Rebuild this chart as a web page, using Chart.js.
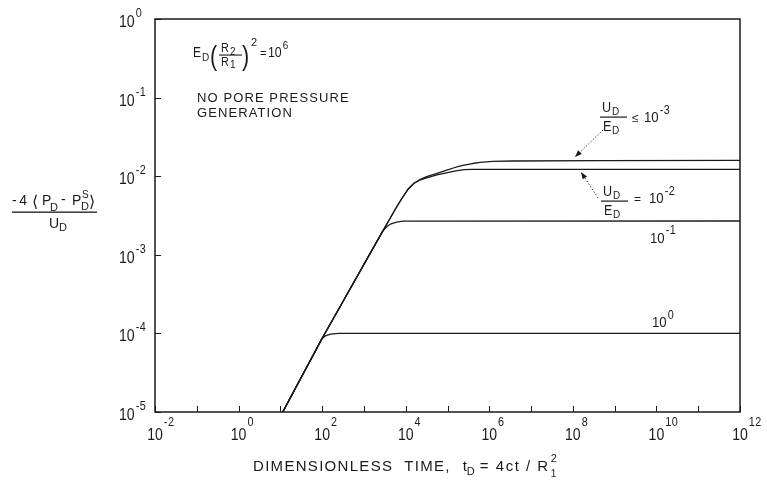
<!DOCTYPE html>
<html>
<head>
<meta charset="utf-8">
<script src="https://cdn.jsdelivr.net/npm/chart.js@4.4.1/dist/chart.umd.min.js"></script>
<style>
  html, body { margin: 0; padding: 0; background: #fff; }
  canvas { display: block; }
</style>
</head>
<body>
<canvas id="chart" width="767" height="484"></canvas>
<script>
// Dimensionless time t_D and the normalised pressure response -4<P_D - P_D^s>/U_D
// for each value of U_D/E_D (E_D (R2/R1)^2 = 10^6, no pore pressure generation).
// All curves share the early-time line, then level off.
const tRatio1e3 = [11.4, 98, 2820, 3980, 5620, 7940, 11200, 15800, 22400, 31600, 56200, 1e5, 158000, 234000, 398000, 603000, 1.2e6, 3.7e6, 4.5e8, 1e12];
const pRatio1e3 = [1e-5, 8.5e-5, 2.0e-3, 2.75e-3, 3.8e-3, 5.13e-3, 6.76e-3, 8.13e-3, 9.1e-3, 9.85e-3, 1.09e-2, 1.20e-2, 1.30e-2, 1.37e-2, 1.45e-2, 1.50e-2, 1.54e-2, 1.56e-2, 1.58e-2, 1.59e-2];

const tRatio1e2 = [11.4, 98, 2820, 3980, 5620, 7940, 11200, 15800, 22400, 31600, 56200, 1e5, 158000, 251000, 398000, 1e12];
const pRatio1e2 = [1e-5, 8.5e-5, 2.0e-3, 2.75e-3, 3.8e-3, 5.13e-3, 6.76e-3, 8.13e-3, 9.0e-3, 9.5e-3, 1.04e-2, 1.11e-2, 1.17e-2, 1.21e-2, 1.22e-2, 1.22e-2];

const tRatio1e1 = [11.4, 98, 2820, 3550, 4470, 6030, 8710, 1e12];
const pRatio1e1 = [1e-5, 8.5e-5, 2.0e-3, 2.29e-3, 2.48e-3, 2.60e-3, 2.68e-3, 2.69e-3];

const tRatio1e0 = [11.4, 98, 120, 158, 251, 1e12];
const pRatio1e0 = [1e-5, 8.5e-5, 9.33e-5, 9.8e-5, 1e-4, 1e-4];

// Axis decades
const xDecades = [-2, -1, 0, 1, 2, 3, 4, 5, 6, 7, 8, 9, 10, 11, 12];
const xLabelDecades = [-2, 0, 2, 4, 6, 8, 10, 12];
const yDecades = [0, -1, -2, -3, -4, -5];

const INK = '#1a1a1a';
const FONT = '"Liberation Sans", "DejaVu Sans", sans-serif';

function pts(ts, ps) { return ts.map((t, i) => ({ x: t, y: ps[i] })); }

// text with optional letter spacing and horizontal squeeze; returns drawn width
function put(ctx, s, x, y, size, ls, hs) {
  hs = hs || 1;
  ctx.font = size + 'px ' + FONT;
  ctx.letterSpacing = (ls || 0) + 'px';
  ctx.textAlign = 'left';
  ctx.textBaseline = 'alphabetic';
  const w = ctx.measureText(s).width * hs;
  ctx.save();
  ctx.translate(x, y);
  ctx.scale(hs, 1);
  ctx.fillText(s, 0, 0);
  ctx.restore();
  ctx.letterSpacing = '0px';
  return w;
}
function width(ctx, s, size, ls, hs) {
  ctx.font = size + 'px ' + FONT;
  ctx.letterSpacing = (ls || 0) + 'px';
  const w = ctx.measureText(s).width * (hs || 1);
  ctx.letterSpacing = '0px';
  return w;
}
// "10" with a raised exponent, left edge at x
function pow10(ctx, exp, x, y, size, supSize, rise) {
  const w = put(ctx, '10', x, y, size, 0, 0.88);
  const w2 = put(ctx, String(exp), x + w + 1, y - rise, supSize, 0.5, 0.9);
  return w + 1 + w2;
}
function fracUE(ctx, x, top) {
  // U_D over E_D
  put(ctx, 'U', x + 2, top + 12, 14, 0, 0.9);
  put(ctx, 'D', x + 12, top + 15, 10);
  ctx.fillRect(x, top + 16.5, 27, 1.2);
  put(ctx, 'E', x + 3, top + 31, 14, 0, 0.9);
  put(ctx, 'D', x + 12, top + 34, 10);
}
function arrow(ctx, x0, y0, x1, y1) {
  ctx.save();
  ctx.setLineDash([1.2, 2]);
  ctx.lineWidth = 1;
  ctx.beginPath(); ctx.moveTo(x0, y0); ctx.lineTo(x1, y1); ctx.stroke();
  ctx.setLineDash([]);
  const a = Math.atan2(y1 - y0, x1 - x0), L = 7, H = 2.6;
  ctx.beginPath();
  ctx.moveTo(x1, y1);
  ctx.lineTo(x1 - L * Math.cos(a) + H * Math.sin(a), y1 - L * Math.sin(a) - H * Math.cos(a));
  ctx.lineTo(x1 - L * Math.cos(a) - H * Math.sin(a), y1 - L * Math.sin(a) + H * Math.cos(a));
  ctx.closePath(); ctx.fill();
  ctx.restore();
}

const decorations = {
  id: 'decorations',
  afterDatasetsDraw(chart) {
    const ctx = chart.ctx, a = chart.chartArea;
    const xs = chart.scales.x, ys = chart.scales.y;
    ctx.save();
    ctx.fillStyle = INK; ctx.strokeStyle = INK;

    // frame
    ctx.lineWidth = 1.5;
    ctx.strokeRect(a.left, a.top, a.right - a.left, a.bottom - a.top);

    // inward decade ticks
    ctx.lineWidth = 1;
    xDecades.forEach(e => {
      const px = Math.round(xs.getPixelForValue(Math.pow(10, e))) + 0.5;
      ctx.beginPath(); ctx.moveTo(px, a.bottom); ctx.lineTo(px, a.bottom - 6); ctx.stroke();
    });
    yDecades.forEach(e => {
      const py = Math.round(ys.getPixelForValue(Math.pow(10, e))) + 0.5;
      ctx.beginPath(); ctx.moveTo(a.left, py); ctx.lineTo(a.left + 6, py); ctx.stroke();
    });

    // x tick labels
    xLabelDecades.forEach(e => {
      const px = xs.getPixelForValue(Math.pow(10, e));
      const w = width(ctx, '10', 16, 0, 0.88);
      put(ctx, '10', px - w / 2, a.bottom + 28, 16, 0, 0.88);
      put(ctx, String(e), px + w / 2 + 1, a.bottom + 14, 12, 0.5, 0.9);
    });
    // y tick labels
    yDecades.forEach(e => {
      const py = ys.getPixelForValue(Math.pow(10, e));
      pow10(ctx, e, 119, py + 8, 16, 12, 10);
    });

    // x axis title
    let x = 253; const by = 471;
    x += put(ctx, 'DIMENSIONLESS  TIME,', x, by, 15, 1.3);
    x += 12;
    x += put(ctx, 't', x, by, 15);
    put(ctx, 'D', x, by + 4, 11); x += 11;
    x += put(ctx, '= 4ct / R', x + 2, by, 15, 1.5) + 2;
    put(ctx, '2', x + 1, by - 9, 11);
    put(ctx, '1', x + 1, by + 6, 10);

    // y axis title (fraction)
    put(ctx, '-4', 12, 205, 14, 2.5);
    put(ctx, '\u27E8', 32, 207, 16);
    put(ctx, 'P', 42, 205, 14);
    put(ctx, 'D', 50, 211, 11);
    put(ctx, '-', 61, 204, 14);
    put(ctx, 'P', 72, 205, 14);
    put(ctx, 'S', 82, 198, 10);
    put(ctx, 'D', 81, 210, 11);
    put(ctx, '\u27E9', 89, 207, 16);
    ctx.fillRect(12, 211.5, 85, 1.3);
    put(ctx, 'U', 49, 228, 14);
    put(ctx, 'D', 59, 231, 11);

    // parameter note, top left of plot
    put(ctx, 'E', 193, 57, 14, 0, 0.85);
    put(ctx, 'D', 202, 61, 10);
    put(ctx, '(', 210, 65, 27, 0, 0.8);
    put(ctx, 'R', 221, 52, 12, 0, 0.9); put(ctx, '2', 230, 55, 10);
    ctx.fillRect(219, 54.5, 23, 1.1);
    put(ctx, 'R', 221, 66, 12, 0, 0.9); put(ctx, '1', 230, 68, 10);
    put(ctx, ')', 242, 65, 27, 0, 0.8);
    put(ctx, '2', 251, 46, 11);
    put(ctx, '=', 260, 57, 11);
    pow10(ctx, 6, 268, 57, 14, 11, 8);

    put(ctx, 'NO PORE PRESSURE', 197, 102, 13, 1.1);
    put(ctx, 'GENERATION', 197, 117, 13, 1.1);

    // curve labels
    fracUE(ctx, 600, 100);
    put(ctx, '\u2264', 632, 122, 12);
    pow10(ctx, -3, 644, 122, 15, 12, 8);
    arrow(ctx, 603, 130, 575, 157);

    fracUE(ctx, 601, 184);
    put(ctx, '=', 634, 203, 12);
    pow10(ctx, -2, 649, 203, 15, 12, 8);
    arrow(ctx, 598, 198, 581, 172);

    const y1 = ys.getPixelForValue(pRatio1e1[pRatio1e1.length - 1]);
    pow10(ctx, -1, 650, y1 + 22, 15, 12, 9);
    const y0 = ys.getPixelForValue(pRatio1e0[pRatio1e0.length - 1]);
    pow10(ctx, 0, 652, y0 - 6, 15, 12, 8);

    ctx.restore();
  }
};

const line = (ts, ps) => ({
  data: pts(ts, ps),
  showLine: true,
  borderColor: INK,
  borderWidth: 1.3,
  borderJoinStyle: 'round',
  pointRadius: 0,
  tension: 0,
  fill: false
});

new Chart(document.getElementById('chart'), {
  type: 'scatter',
  data: {
    datasets: [
      line(tRatio1e3, pRatio1e3),
      line(tRatio1e2, pRatio1e2),
      line(tRatio1e1, pRatio1e1),
      line(tRatio1e0, pRatio1e0)
    ]
  },
  options: {
    responsive: false,
    animation: false,
    devicePixelRatio: 1,
    layout: { padding: { left: 155, top: 19, right: 27, bottom: 72 } },
    scales: {
      x: { type: 'logarithmic', min: 1e-2, max: 1e12, display: false },
      y: { type: 'logarithmic', min: 1e-5, max: 1, display: false }
    },
    plugins: { legend: { display: false }, tooltip: { enabled: false } }
  },
  plugins: [decorations]
});
</script>
</body>
</html>
